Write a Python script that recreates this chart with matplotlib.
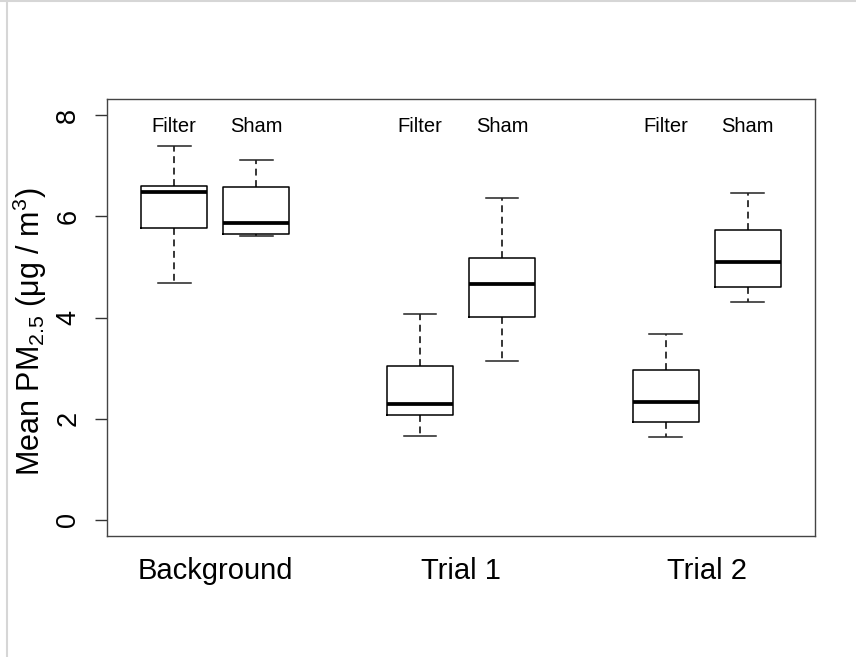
import matplotlib
matplotlib.use("Agg")
import matplotlib.pyplot as plt
from matplotlib.lines import Line2D

plt.rcParams['font.family'] = ['Liberation Sans', 'DejaVu Sans']
plt.rcParams['mathtext.fontset'] = 'custom'
plt.rcParams['mathtext.rm'] = 'Liberation Sans'

### data
groups = ['Background', 'Trial 1', 'Trial 2']
arms = ['Filter', 'Sham']
positions = [1, 2, 4, 5, 7, 8]
whislo = [4.68, 5.61, 1.65, 3.14, 1.63, 4.30]
q1     = [5.76, 5.66, 2.08, 4.01, 1.93, 4.61]
med    = [6.48, 5.86, 2.28, 4.66, 2.32, 5.09]
q3     = [6.60, 6.58, 3.04, 5.17, 2.96, 5.73]
whishi = [7.39, 7.11, 4.06, 6.37, 3.67, 6.46]

stats = []
for i in range(len(positions)):
    stats.append(dict(whislo=whislo[i], q1=q1[i], med=med[i], q3=q3[i],
                      whishi=whishi[i], fliers=[]))

fig = plt.figure(figsize=(8.56, 6.57), dpi=100)
ax = fig.add_axes([107/856, 121/657, 708/856, 437/657])

ax.bxp(stats, positions=positions, widths=0.8, capwidths=0.4,
       showfliers=False,
       boxprops=dict(color='black', lw=1.1),
       medianprops=dict(color='black', lw=2.7, solid_capstyle='butt'),
       whiskerprops=dict(color='black', lw=1.1, linestyle=(0, (4.5, 3))),
       capprops=dict(color='#222222', lw=1.1))

ax.set_xlim(0.18, 8.82)
ax.set_ylim(-0.32, 8.32)

# arm labels above each box
for i, p in enumerate(positions):
    ax.text(p, 7.78, arms[i % 2], ha='center', va='center', fontsize=14.5)

ax.set_xticks([1.5, 4.5, 7.5])
ax.set_xticklabels(groups, fontsize=21)
ax.tick_params(axis='x', length=0, pad=15)

ax.set_yticks([0, 2, 4, 6, 8])
ax.set_yticklabels(['0', '2', '4', '6', '8'], rotation=90, va='center', fontsize=19.5)
ax.tick_params(axis='y', length=8.6, width=1.0, pad=10, direction='out', color='#333333')

for s in ax.spines.values():
    s.set_color('#444444')
    s.set_linewidth(1.0)

ax.set_ylabel(r'Mean PM$_{\mathregular{2.5}}$ ($\mathregular{\mu}$g / m$^{\mathregular{3}}$)',
              fontsize=22)
ax.yaxis.set_label_coords(-0.082, 0.467)

# light frame round the picture
fig.add_artist(Line2D([0, 1], [0.998, 0.998], transform=fig.transFigure, color='#d6d6d6', lw=1.5))
fig.add_artist(Line2D([7.5/856, 7.5/856], [0, 1], transform=fig.transFigure, color='#d6d6d6', lw=1.5))

fig.savefig('out.png', dpi=100)
